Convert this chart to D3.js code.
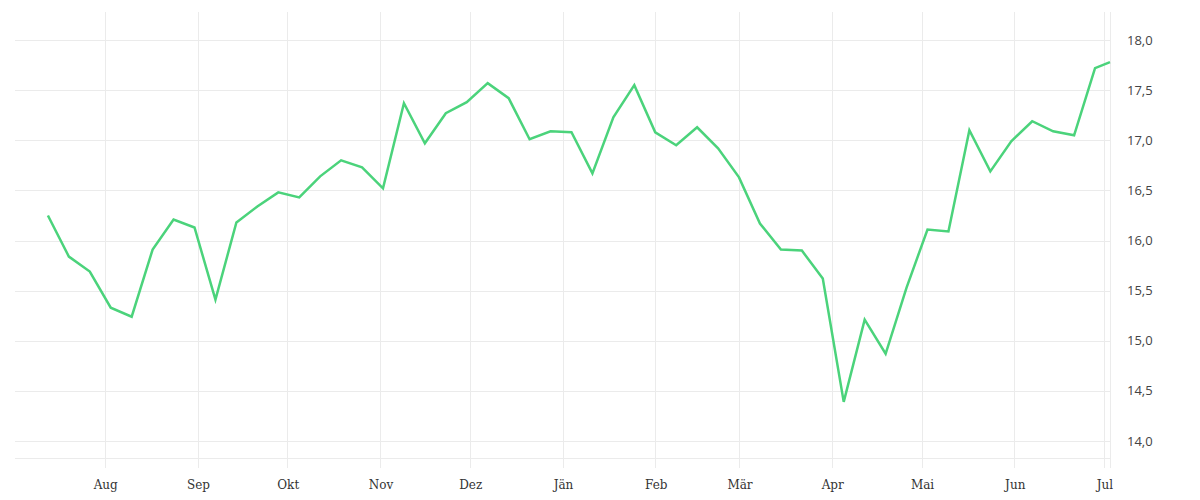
<!DOCTYPE html>
<html>
<head>
<meta charset="utf-8">
<script src="https://cdn.jsdelivr.net/npm/d3@7"></script>
<style>
  body { margin: 0; background: #fff; }
  .grid line { stroke: #ebebeb; stroke-width: 1; shape-rendering: crispEdges; }
  .xlab { font-family: "DejaVu Serif", serif; font-size: 12px; fill: #333; }
  .ylab { font-family: "Open Sans", "Noto Sans", sans-serif; font-size: 13px; fill: #444; }
</style>
</head>
<body>
<svg id="chart" width="1200" height="500"></svg>
<script>
// weekly values
let dates = [
  "2022-07-13", "2022-07-20", "2022-07-27", "2022-08-03", "2022-08-10", "2022-08-17",
  "2022-08-24", "2022-08-31", "2022-09-07", "2022-09-14", "2022-09-21", "2022-09-28",
  "2022-10-05", "2022-10-12", "2022-10-19", "2022-10-26", "2022-11-02", "2022-11-09",
  "2022-11-16", "2022-11-23", "2022-11-30", "2022-12-07", "2022-12-14", "2022-12-21",
  "2022-12-28", "2023-01-04", "2023-01-11", "2023-01-18", "2023-01-25", "2023-02-01",
  "2023-02-08", "2023-02-15", "2023-02-22", "2023-03-01", "2023-03-08", "2023-03-15",
  "2023-03-22", "2023-03-29", "2023-04-05", "2023-04-12", "2023-04-19", "2023-04-26",
  "2023-05-03", "2023-05-10", "2023-05-17", "2023-05-24", "2023-05-31", "2023-06-07",
  "2023-06-14", "2023-06-21", "2023-06-28", "2023-07-03"
];

let values = [
  16.25, 15.84, 15.69, 15.33, 15.24, 15.91, 16.21, 16.13, 15.41, 16.18, 16.34, 16.48,
  16.43, 16.64, 16.80, 16.73, 16.52, 17.37, 16.97, 17.27, 17.38, 17.57, 17.42, 17.01,
  17.09, 17.08, 16.67, 17.23, 17.55, 17.08, 16.95, 17.13, 16.92, 16.63, 16.17, 15.91,
  15.90, 15.62, 14.39, 15.21, 14.87, 15.53, 16.11, 16.09, 17.10, 16.69, 16.99, 17.19,
  17.09, 17.05, 17.72, 17.78
];

let monthTicks = [
  "2022-08-01", "2022-09-01", "2022-10-01", "2022-11-01", "2022-12-01", "2023-01-01",
  "2023-02-01", "2023-03-01", "2023-04-01", "2023-05-01", "2023-06-01", "2023-07-01"
];
let monthLabels = ["Aug", "Sep", "Okt", "Nov", "Dez", "Jän", "Feb", "Mär", "Apr", "Mai", "Jun", "Jul"];

let yTicks = [14.0, 14.5, 15.0, 15.5, 16.0, 16.5, 17.0, 17.5, 18.0];

let parse = d3.timeParse("%Y-%m-%d");
let de = d3.formatLocale({decimal: ",", thousands: ".", grouping: [3], currency: ["", " €"]});
let fmt = de.format(".1f");

let plot = {left: 15, right: 1110, top: 12, bottom: 458};

let x = d3.scaleTime()
  .domain([parse("2022-07-02"), parse("2023-07-03")])
  .range([plot.left, plot.right]);

let y = d3.scaleLinear()
  .domain([13.83, 18.28])
  .range([plot.bottom, plot.top]);

let svg = d3.select("#chart");

// horizontal grid
let grid = svg.append("g").attr("class", "grid");
grid.selectAll("line.h")
  .data(yTicks)
  .enter().append("line")
  .attr("x1", plot.left).attr("x2", plot.right)
  .attr("y1", d => Math.round(y(d)) + 0.5)
  .attr("y2", d => Math.round(y(d)) + 0.5);

// bottom edge
grid.append("line")
  .attr("x1", plot.left).attr("x2", plot.right)
  .attr("y1", plot.bottom + 0.5).attr("y2", plot.bottom + 0.5);

// vertical grid, month ticks + right edge
grid.selectAll("line.v")
  .data(monthTicks.map(parse).concat([x.domain()[1]]))
  .enter().append("line")
  .attr("x1", d => Math.round(x(d)) + 0.5)
  .attr("x2", d => Math.round(x(d)) + 0.5)
  .attr("y1", plot.top).attr("y2", plot.bottom + 10);

// x labels
svg.selectAll("text.xlab")
  .data(monthTicks)
  .enter().append("text")
  .attr("class", "xlab")
  .attr("x", d => x(parse(d)) + 1)
  .attr("y", 489)
  .attr("text-anchor", "middle")
  .text((d, i) => monthLabels[i]);

// y labels
svg.selectAll("text.ylab")
  .data(yTicks)
  .enter().append("text")
  .attr("class", "ylab")
  .attr("x", 1127)
  .attr("y", d => y(d))
  .attr("dy", "0.35em")
  .text(d => fmt(d));

// the line
let line = d3.line()
  .x((d, i) => x(parse(dates[i])))
  .y(d => y(d));

svg.append("path")
  .datum(values)
  .attr("fill", "none")
  .attr("stroke", "#4bd37b")
  .attr("stroke-width", 2.5)
  .attr("stroke-linejoin", "miter")
  .attr("d", line);
</script>
</body>
</html>
